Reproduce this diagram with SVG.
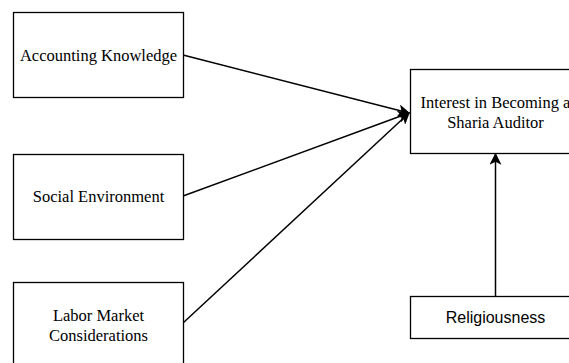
<svg xmlns="http://www.w3.org/2000/svg" width="569" height="363" viewBox="0 0 569 363">
<style>
.box{fill:#fff;stroke:#000;stroke-width:1.3}
.serif{font-family:"Liberation Serif","Times New Roman",serif;font-size:16.5px;fill:#000;text-anchor:middle}
.sans{font-family:"Liberation Sans",Arial,sans-serif;font-size:16px;fill:#000;text-anchor:middle}
.edge{stroke:#000;stroke-width:1.5;fill:none;marker-end:url(#ah)}
</style>
<defs>
<marker id="ah" viewBox="0 0 10 10" refX="9" refY="5" markerWidth="12" markerHeight="12" markerUnits="userSpaceOnUse" orient="auto">
<path d="M0,0 L10,5 L0,10 L2.5,5 Z" fill="#000"/>
</marker>
</defs>
<rect width="569" height="363" fill="#fff"/>
<g id="connectors">
<line class="edge" x1="183" y1="55" x2="409" y2="113"/>
<line class="edge" x1="183" y1="196" x2="409" y2="113"/>
<line class="edge" x1="183" y1="323" x2="409" y2="113"/>
<line class="edge" x1="495.5" y1="296" x2="495.5" y2="154"/>
</g>
<g id="accounting">
<rect class="box" x="13.5" y="12.5" width="170" height="85"/>
<text class="serif" x="98.5" y="61">Accounting Knowledge</text>
</g>
<g id="social">
<rect class="box" x="13.5" y="154.5" width="170" height="85"/>
<text class="serif" x="98.5" y="202">Social Environment</text>
</g>
<g id="labor">
<rect class="box" x="13.5" y="282.5" width="170" height="85"/>
<text class="serif" x="98.5" y="321">Labor Market</text>
<text class="serif" x="98.5" y="341">Considerations</text>
</g>
<g id="interest">
<rect class="box" x="410.5" y="69.5" width="170" height="84"/>
<text class="serif" x="495.5" y="108">Interest in Becoming a</text>
<text class="serif" x="495.5" y="128">Sharia Auditor</text>
</g>
<g id="religiousness">
<rect class="box" x="410.5" y="296.5" width="170" height="42"/>
<text class="sans" x="495.5" y="323">Religiousness</text>
</g>
</svg>
